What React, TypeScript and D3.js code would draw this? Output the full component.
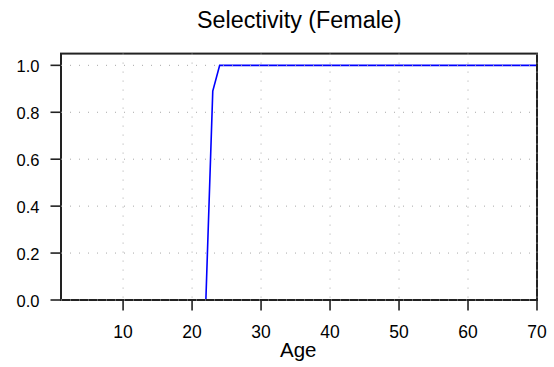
import React from "react";
import * as d3 from "d3";

const ages: number[] = [
  1, 2, 3, 4, 5, 6, 7, 8, 9, 10, 11, 12, 13, 14, 15, 16, 17, 18, 19, 20,
  21, 22, 23, 24, 25, 26, 27, 28, 29, 30, 31, 32, 33, 34, 35, 36, 37, 38, 39, 40,
  41, 42, 43, 44, 45, 46, 47, 48, 49, 50, 51, 52, 53, 54, 55, 56, 57, 58, 59, 60,
  61, 62, 63, 64, 65, 66, 67, 68, 69, 70,
];
const selectivity: number[] = [
  0, 0, 0, 0, 0, 0, 0, 0, 0, 0, 0, 0, 0, 0, 0, 0, 0, 0, 0, 0,
  0, 0, 0.89, 1, 1, 1, 1, 1, 1, 1, 1, 1, 1, 1, 1, 1, 1, 1, 1, 1,
  1, 1, 1, 1, 1, 1, 1, 1, 1, 1, 1, 1, 1, 1, 1, 1, 1, 1, 1, 1,
  1, 1, 1, 1, 1, 1, 1, 1, 1, 1,
];
const xTicks: number[] = [10, 20, 30, 40, 50, 60, 70];
const yTicks: number[] = [0, 0.2, 0.4, 0.6, 0.8, 1.0];
const title = "Selectivity (Female)";
const xLabel = "Age";

const W = 554;
const H = 367;
const FONT = "'Liberation Sans', Arial, Helvetica, sans-serif";

export default function App() {
  const x = d3.scaleLinear().domain([1, 70]).range([61, 537]);
  const y = d3.scaleLinear().domain([0, 1.05]).range([300, 53.6]);
  const line = d3
    .line<number>()
    .x((_, i) => x(ages[i]))
    .y((d) => y(d));
  const x0 = x.range()[0];
  const x1 = x.range()[1];
  const yb = y(0);
  const yt = y(1.05);
  const gridColor = "#a8a8a8";
  return (
    <svg
      width={W}
      height={H}
      style={{ position: "absolute", left: 0, top: 0, background: "#fff" }}
      fontFamily={FONT}
    >
      <text x={299.3} y={28.3} textAnchor="middle" fontSize={23.3} fill="#000">
        {title}
      </text>
      <path d={line(selectivity) || ""} fill="none" stroke="#0000ff" strokeWidth={1.6} />
      <rect x={x0} y={yt} width={x1 - x0} height={yb - yt} fill="none" stroke="#222" strokeWidth={2} />
      {xTicks.map((t) => (
        <g key={"x" + t}>
          <line x1={x(t)} x2={x(t)} y1={yt} y2={yb} stroke={gridColor} strokeWidth={1} strokeDasharray="1,8" />
          <line x1={x(t)} x2={x(t)} y1={yb} y2={yb + 10.5} stroke="#222" strokeWidth={1.6} />
          <text x={x(t)} y={338.3} textAnchor="middle" fontSize={17.5} fill="#000">
            {t}
          </text>
        </g>
      ))}
      {yTicks.map((t) => (
        <g key={"y" + t}>
          <line x1={x0} x2={x1} y1={y(t)} y2={y(t)} stroke={gridColor} strokeWidth={1} strokeDasharray="1,8" />
          <line x1={x0 - 10.5} x2={x0} y1={y(t)} y2={y(t)} stroke="#222" strokeWidth={1.6} />
          <text x={39.5} y={y(t) + 6.8} textAnchor="end" fontSize={16.5} fill="#000">
            {t.toFixed(1)}
          </text>
        </g>
      ))}
      <text x={298.3} y={356.7} textAnchor="middle" fontSize={20.5} fill="#000">
        {xLabel}
      </text>
    </svg>
  );
}
